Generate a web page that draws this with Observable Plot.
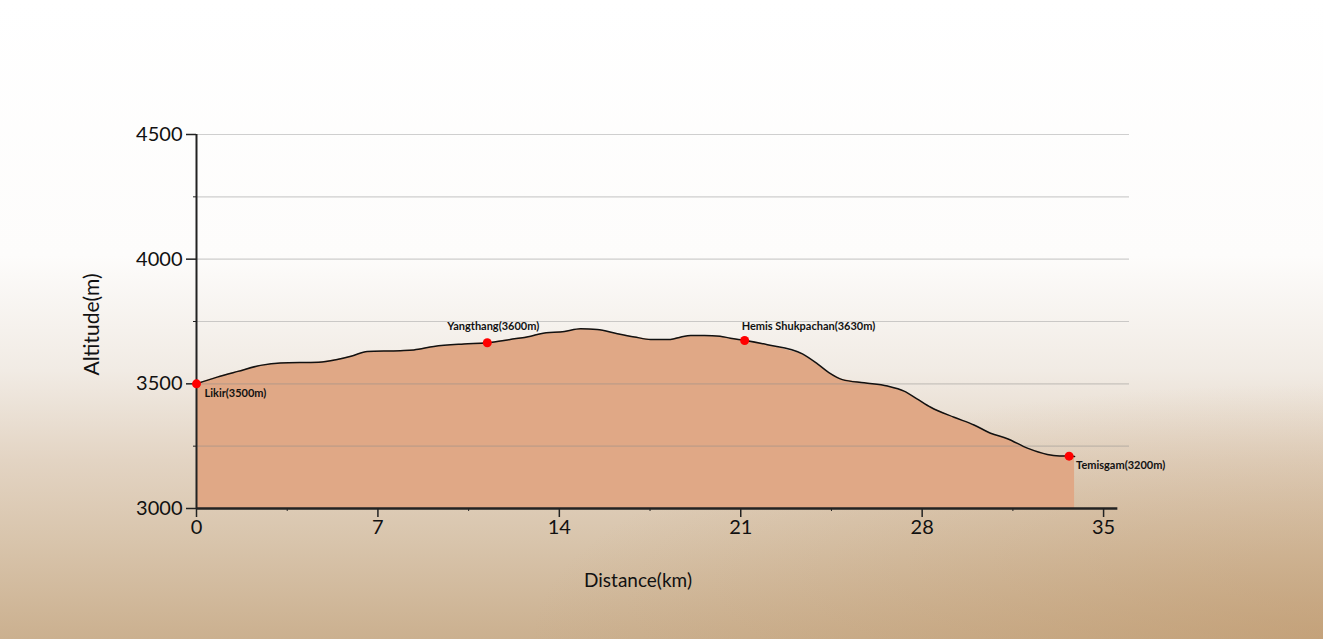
<!DOCTYPE html>
<html>
<head>
<meta charset="utf-8">
<script src="https://cdn.jsdelivr.net/npm/d3@7"></script>
<script src="https://cdn.jsdelivr.net/npm/@observablehq/plot@0.6"></script>
<style>
  html, body { margin: 0; padding: 0; }
  #wrap {
    width: 1323px; height: 639px; position: relative; overflow: hidden;
    background:
      radial-gradient(ellipse 60% 40% at 100% 100%, rgba(190,150,105,0.55), rgba(190,150,105,0) 100%),
      linear-gradient(to bottom, #ffffff 0%, #fdfcfb 40%, #f1ebe4 58%, #e3d4c3 72%, #d8c4ab 85%, #cbb08f 100%);
  }
</style>
</head>
<body>
<div id="wrap"></div>
<script>
// Elevation profile (distance km, altitude m)
const distanceKm = [0, 0.8, 1.6, 2.47, 3.24, 4.72, 5.43, 6.0, 6.59, 7.87, 8.39, 9.16, 10.32, 11.22, 12.1, 12.9, 13.28, 14.2, 14.82, 15.46, 16.24, 16.9, 17.52, 18.29, 18.7, 19.07, 19.6, 20.2, 20.6, 21.19, 22.03, 23.38, 23.96, 24.4, 24.92, 25.76, 26.66, 27.3, 27.8, 28.33, 29.23, 30.0, 30.64, 31.29, 32.06, 32.83, 33.3, 33.67, 33.88];
const altitudeM  = [3500, 3527, 3550, 3574, 3584, 3587, 3598, 3612, 3630, 3633, 3636, 3650, 3660, 3665, 3678, 3691, 3701, 3710, 3721, 3718, 3701, 3688, 3678, 3678, 3688, 3694, 3694, 3691, 3683, 3674, 3657, 3620, 3580, 3545, 3517, 3504, 3491, 3471, 3440, 3406, 3366, 3335, 3302, 3280, 3242, 3217, 3211, 3210, 3209];

// Named stops along the trek
const stopNames = ["Likir(3500m)", "Yangthang(3600m)", "Hemis Shukpachan(3630m)", "Temisgam(3200m)"];
const stopKm    = [0, 11.22, 21.15, 33.67];
const stopAlt   = [3500, 3665, 3674, 3210];

// Axis ticks and titles
const xTicks = [0, 7, 14, 21, 28, 35];
const xMinorTicks = [3.5, 10.5, 17.5, 24.5, 31.5];
const yTicks = [3000, 3500, 4000, 4500];
const yMinorTicks = [3250, 3750, 4250];
const gridLines = [3250, 3500, 3750, 4000, 4250, 4500];
const xTitle = "Distance(km)";
const yTitle = "Altitude(m)";

const profile = distanceKm.map((d, i) => ({km: d, alt: altitudeM[i]}));
const stops = stopNames.map((n, i) => ({name: n, km: stopKm[i], alt: stopAlt[i]}));

const font = "Lato, 'Open Sans', sans-serif";
const labelStyle = {x: "km", y: "alt", text: "name", fontSize: 11, fontWeight: 700, fill: "#111"};

const chart = Plot.plot({
  width: 1323,
  height: 639,
  marginLeft: 196,
  marginRight: 194,
  marginTop: 134,
  marginBottom: 131,
  x: {domain: [0, 36], axis: null},
  y: {domain: [3000, 4500], axis: null},
  style: {background: "transparent", fontFamily: font, color: "#111", overflow: "visible"},
  marks: [
    Plot.areaY(profile, {x: "km", y1: 3000, y2: "alt", fill: "#e0a886"}),
    Plot.ruleY(gridLines, {x1: 0, x2: 36, stroke: "#8a8a8a", strokeOpacity: 0.4, strokeWidth: 1.2}),
    Plot.line(profile, {x: "km", y: "alt", stroke: "#111", strokeWidth: 1.5, curve: "monotone-x"}),
    Plot.ruleY([3000], {x1: 0, x2: 35.55, stroke: "#222", strokeWidth: 2.4}),
    Plot.ruleX([0], {y1: 3000, y2: 4500, stroke: "#222", strokeWidth: 2}),
    Plot.axisX({ticks: xTicks, tickSize: 9, tickPadding: 2, fontSize: 20, stroke: "#222", strokeWidth: 1.5,
      tickFormat: d => String(d), label: null}),
    Plot.axisX({ticks: xMinorTicks, tickSize: 3, text: null, stroke: "#222", label: null}),
    Plot.axisY({ticks: yTicks, tickSize: 10, tickPadding: 4, fontSize: 20, stroke: "#222", strokeWidth: 1.5,
      tickFormat: d => String(d), label: null}),
    Plot.axisY({ticks: yMinorTicks, tickSize: 3, text: null, stroke: "#222", label: null}),
    Plot.text([xTitle], {frameAnchor: "bottom", lineAnchor: "middle", textAnchor: "middle", dx: -25, dy: 72, fontSize: 19, fill: "#111"}),
    Plot.text([yTitle], {frameAnchor: "left", lineAnchor: "middle", textAnchor: "middle", dx: -104, dy: 3, rotate: -90, fontSize: 21, fill: "#111"}),
    Plot.dot(stops, {x: "km", y: "alt", r: 4.5, fill: "#ff0000", stroke: "none"}),
    Plot.text(stops.filter((d, i) => i === 0), {...labelStyle, textAnchor: "start", dx: 8, dy: 10}),
    Plot.text(stops.filter((d, i) => i === 1), {...labelStyle, textAnchor: "middle", dx: 6, dy: -16}),
    Plot.text(stops.filter((d, i) => i === 2), {...labelStyle, textAnchor: "start", dx: -3, dy: -14}),
    Plot.text(stops.filter((d, i) => i === 3), {...labelStyle, textAnchor: "start", dx: 7, dy: 9})
  ]
});
document.getElementById("wrap").appendChild(chart);
</script>
</body>
</html>
